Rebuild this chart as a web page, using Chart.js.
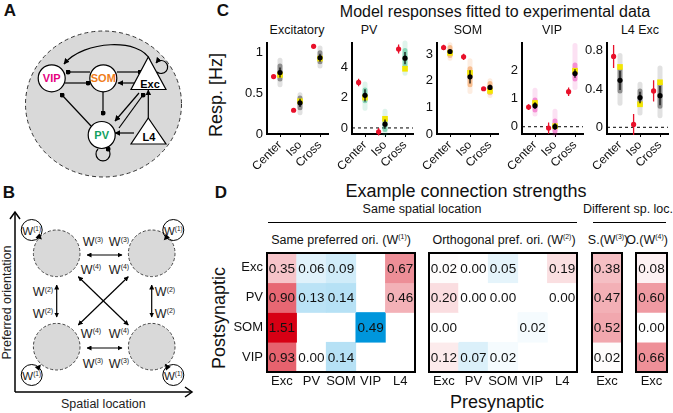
<!DOCTYPE html>
<html>
<head>
<meta charset="utf-8">
<script src="https://cdn.jsdelivr.net/npm/chart.js@4.4.1/dist/chart.umd.min.js"></script>
<style>
body { margin:0; width:673px; height:413px; position:relative; overflow:hidden; background:#fff; font-family:"Liberation Sans", Arial, sans-serif; color:#111; }
.box { position:absolute; }
.t { position:absolute; transform:translate(-50%,-50%); white-space:nowrap; line-height:1; }
.rot { transform:translate(-50%,-50%) rotate(-90deg); }
.b { font-weight:bold; }
sup { font-size:0.55em; vertical-align:0.7em; line-height:0; }
.hl { position:absolute; height:1.5px; background:#000; }
</style>
</head>
<body>

<svg width="220" height="413" style="position:absolute;left:0;top:0" font-family="Liberation Sans, Arial, sans-serif">
  <defs>
    <marker id="tri" viewBox="0 0 10 10" refX="9" refY="5" markerWidth="6" markerHeight="6" markerUnits="userSpaceOnUse" orient="auto-start-reverse">
      <path d="M0,0 L10,5 L0,10 z" fill="#000"/>
    </marker>
    <marker id="triS" viewBox="0 0 10 10" refX="9" refY="5" markerWidth="5" markerHeight="5" markerUnits="userSpaceOnUse" orient="auto-start-reverse">
      <path d="M0,0 L10,5 L0,10 z" fill="#000"/>
    </marker>
    <marker id="dot" viewBox="0 0 10 10" refX="5" refY="5" markerWidth="5" markerHeight="5" markerUnits="userSpaceOnUse">
      <circle cx="5" cy="5" r="5" fill="#000"/>
    </marker>
  </defs>

  <!-- A: circuit -->
  <ellipse cx="103.5" cy="104" rx="78" ry="73" fill="#d9d9d9" stroke="#333" stroke-width="1" stroke-dasharray="4,3"/>
  <g stroke="#000" stroke-width="1.2" fill="none">
    <path d="M150,60 C140,38 84,40 64,64" marker-end="url(#tri)"/>
    <path d="M90,72 L68,72" marker-end="url(#dot)"/>
    <path d="M117,72 L140,72" marker-end="url(#dot)"/>
    <path d="M65,83 L88,83" marker-end="url(#dot)"/>
    <path d="M139,83 L118,83" marker-end="url(#tri)"/>
    <path d="M91,126 L62,95" marker-end="url(#dot)"/>
    <path d="M103,92 L103,113" marker-end="url(#dot)"/>
    <path d="M139,93 L115,121" marker-end="url(#tri)"/>
    <path d="M119,128 L143,95" marker-end="url(#dot)"/>
    <path d="M148.3,120 L148.3,90" marker-end="url(#tri)"/>
    <path d="M134,133 L115,133" marker-end="url(#tri)"/>
    <path d="M157,72 A6.5,6.5 0 1 0 156,63" marker-end="url(#tri)"/>
    <path d="M98,149 A7,7 0 1 0 108,149" marker-end="url(#dot)"/>
  </g>
  <g stroke="#000" stroke-width="1.2" fill="#fff">
    <circle cx="51.7" cy="78.3" r="13.5"/>
    <circle cx="103.3" cy="78.3" r="13.5"/>
    <circle cx="101.7" cy="135" r="13.5"/>
    <polygon points="148.3,57 131,89.5 166,89.5"/>
    <polygon points="148.3,118 131,144 166,144"/>
  </g>
  <g font-size="11" font-weight="bold" text-anchor="middle">
    <text x="51.7" y="82.3" fill="#e5007d">VIP</text>
    <text x="103.3" y="82.3" fill="#f07d1a">SOM</text>
    <text x="101.7" y="139" fill="#12a060">PV</text>
    <text x="150" y="87.5" fill="#000">Exc</text>
    <text x="149" y="141" fill="#000">L4</text>
  </g>

  <!-- B: spatial / orientation scheme -->
  <g stroke="#000" stroke-width="1.5" fill="none">
    <line x1="15" y1="392" x2="15" y2="212"/>
    <polyline points="10,219 15,212 20,219"/>
    <line x1="15" y1="392" x2="192" y2="392"/>
    <polyline points="185,387 192,392 185,397"/>
  </g>
  <g fill="#d9d9d9" stroke="#444" stroke-width="1" stroke-dasharray="3,2">
    <circle cx="56.7" cy="253.3" r="23.3"/>
    <circle cx="151.7" cy="253.3" r="23.3"/>
    <circle cx="56.7" cy="346.7" r="23.3"/>
    <circle cx="151.7" cy="346.7" r="23.3"/>
  </g>
  <g stroke="#000" stroke-width="1.2" fill="none">
    <path d="M87,255 L122,255" marker-start="url(#triS)" marker-end="url(#triS)"/>
    <path d="M87,348 L122,348" marker-start="url(#triS)" marker-end="url(#triS)"/>
    <path d="M56.7,285 L56.7,317" marker-start="url(#triS)" marker-end="url(#triS)"/>
    <path d="M151.7,285 L151.7,317" marker-start="url(#triS)" marker-end="url(#triS)"/>
    <path d="M78.3,276.7 L128.3,325" marker-start="url(#triS)" marker-end="url(#triS)"/>
    <path d="M128.3,276.7 L78.3,325" marker-start="url(#triS)" marker-end="url(#triS)"/>
  </g>
  <g id="loops"></g>
  <g font-size="12.5" text-anchor="middle" fill="#222" id="wlabels"></g>
  <text x="103.3" y="407.5" font-size="12.5" text-anchor="middle" fill="#222">Spatial location</text>
  <text x="0" y="0" font-size="12.5" text-anchor="middle" fill="#222" transform="translate(10.5,302.5) rotate(-90)">Preferred orientation</text>
</svg>

<div class="t b" style="left:10px;top:10px;font-size:17px">A</div>
<div class="t b" style="left:9px;top:192px;font-size:17px">B</div>
<div class="t b" style="left:223px;top:10px;font-size:17px">C</div>
<div class="t b" style="left:221px;top:192px;font-size:17px">D</div>

<div class="t" style="left:495px;top:12px;font-size:16px">Model responses fitted to experimental data</div>
<div class="t rot" style="left:216px;top:95px;font-size:18px">Resp. [Hz]</div>

<div class="t" style="left:466px;top:191px;font-size:18px">Example connection strengths</div>
<div class="t" style="left:422px;top:209px;font-size:12.5px">Same spatial location</div>
<div class="hl" style="left:268px;top:221.5px;width:309px"></div>
<div class="t" style="left:628px;top:209px;font-size:12.5px">Different sp. loc.</div>
<div class="hl" style="left:593px;top:221.5px;width:73px"></div>
<div class="t" style="left:341px;top:240px;font-size:12.5px">Same preferred ori. (W<sup>(1)</sup>)</div>
<div class="t" style="left:504px;top:240px;font-size:12.5px">Orthogonal pref. ori. (W<sup>(2)</sup>)</div>
<div class="t" style="left:608px;top:240px;font-size:12.5px">S.(W<sup>(3)</sup>)</div>
<div class="t" style="left:647px;top:240px;font-size:12.5px">O.(W<sup>(4)</sup>)</div>
<div class="t" style="left:497px;top:402px;font-size:18px">Presynaptic</div>
<div class="t rot" style="left:219px;top:318px;font-size:18px">Postsynaptic</div>

<script>
Chart.defaults.font.family = '"Liberation Sans", Arial, sans-serif';
Chart.defaults.color = '#111';
Chart.defaults.animation = false;
Chart.defaults.events = [];
Chart.defaults.plugins.legend.display = false;
Chart.defaults.plugins.tooltip.enabled = false;

// ---- panel C data ----
const conds = ['Center', 'Iso', 'Cross'];
const cellTypes = ['Excitatory', 'PV', 'SOM', 'VIP', 'L4 Exc'];

// experimental data (red)
const expMean = [[0.70, 0.29, 1.07], [3.0, -0.25, 5.2], [3.25, 2.9, 1.7], [0.70, -0.05, 1.25], [0.74, 0.03, 0.38]];
const expErr  = [[0.01, 0.01, 0.01], [0.25, 0.25, 0.3], [0.1, 0.12, 0.06], [0.1, 0.2, 0.15], [0.12, 0.11, 0.11]];

// model fits: mean, spread, best fit (yellow)
const modelMean = [[0.75, 0.38, 0.93], [2.15, 0.25, 4.6], [3.1, 2.15, 1.75], [0.75, 0.0, 1.9], [0.49, 0.31, 0.33]];
const modelErr  = [[0.06, 0.05, 0.05], [0.4, 0.3, 0.4], [0.08, 0.25, 0.1], [0.12, 0.12, 0.15], [0.1, 0.06, 0.1]];
const bestFit   = [[0.72, 0.40, 0.92], [2.0, 0.6, 3.9], [3.05, 2.3, 1.62], [0.85, 0.02, 2.0], [0.63, 0.24, 0.47]];
const cloudLo = [[0.6, 0.26, 0.83], [1.3, -0.4, 3.6], [2.85, 1.6, 1.45], [0.45, -0.26, 1.4], [0.25, 0.15, 0.12]];
const cloudHi = [[0.9, 0.48, 1.05], [2.9, 1.1, 5.6], [3.35, 2.75, 2.0], [1.3, 0.55, 2.9], [0.75, 0.45, 0.62]];
const coreLo  = [[0.67, 0.32, 0.88], [1.8, -0.1, 4.1], [2.95, 1.85, 1.55], [0.6, -0.15, 1.7], [0.38, 0.24, 0.22]];
const coreHi  = [[0.83, 0.44, 0.99], [2.5, 0.6, 5.1], [3.25, 2.45, 1.9], [0.95, 0.2, 2.2], [0.6, 0.38, 0.45]];

const yRange = [[0, 1.11], [-0.4, 5.6], [0, 3.42], [-0.26, 2.99], [-0.07, 0.88]];
const yTicks = [[0, 0.5, 1], [0, 2, 4], [0, 1, 2, 3], [0, 1, 2], [0, 0.4, 0.8]];

// ---- panel D data (rows: postsynaptic, cols: presynaptic) ----
const preCols = ['Exc', 'PV', 'SOM', 'VIP', 'L4'];
const postRows = ['Exc', 'PV', 'SOM', 'VIP'];
const wSame = [[0.35, 0.06, 0.09, null, 0.67], [0.90, 0.13, 0.14, null, 0.46], [1.51, null, null, 0.49, null], [0.93, 0.00, 0.14, null, null]];
const wOrth = [[0.02, 0.00, 0.05, null, 0.19], [0.20, 0.00, 0.00, null, 0.00], [0.00, null, null, 0.02, null], [0.12, 0.07, 0.02, null, null]];
const wSameFar = [[0.38], [0.47], [0.52], [0.02]];
const wOrthFar = [[0.08], [0.60], [0.00], [0.66]];

// ---- B labels and loops ----
(function () {
  const lab = [[93, 241.7, 3], [119, 241.7, 3], [93, 363.3, 3], [119, 363.3, 3],
               [91, 269.3, 4], [119, 269.3, 4], [91, 333.3, 4], [119, 333.3, 4],
               [43, 291.7, 2], [43, 313.3, 2], [165, 291.7, 2], [165, 313.3, 2]];
  const loops = [[31.7, 230, 56.7, 253.3], [173.3, 230, 151.7, 253.3], [31.7, 375, 56.7, 346.7], [173.3, 375, 151.7, 346.7]];
  let s = '';
  lab.forEach(l => { s += `<text x="${l[0]}" y="${l[1] + 4.5}">W<tspan dy="-4.5" font-size="7">(${l[2]})</tspan></text>`; });
  loops.forEach(l => { s += `<text x="${l[0]}" y="${l[1] + 4.5}" font-size="11.5">W<tspan dy="-4" font-size="6.5">(1)</tspan></text>`; });
  document.getElementById('wlabels').innerHTML = s;
  let g = '';
  loops.forEach(l => {
    const dx = l[2] - l[0], dy = l[3] - l[1], n = Math.hypot(dx, dy);
    const ux = dx / n, uy = dy / n;
    const tip = [l[0] + ux * 14, l[1] + uy * 14];
    const bx = l[0] + ux * 8, by = l[1] + uy * 8;
    g += `<circle cx="${l[0]}" cy="${l[1]}" r="10.5" fill="none" stroke="#000" stroke-width="1"/>`;
    g += `<path d="M${tip[0]},${tip[1]} L${bx - uy * 3},${by + ux * 3} L${bx + uy * 3},${by - ux * 3} z" fill="#000"/>`;
  });
  document.getElementById('loops').innerHTML = g;
})();

// ---- layout ----
const plotLeft = [267, 352, 437, 522, 607];
const plotTop = 43, plotW = 61, plotH = 91;
const titleX = [297, 369, 468, 552, 640];
const cloudRGB = ['40,40,40', '30,180,120', '240,130,40', '235,40,170', '40,40,40'];

function segs(lo, hi, dx) {
  const out = [];
  lo.forEach((v, k) => {
    out.push({x: k + 1 + dx, y: v}, {x: k + 1 + dx, y: hi[k]}, {x: k + 1 + dx, y: null});
  });
  return out;
}
function pts(vals, dx) {
  return vals.map((v, k) => ({x: k + 1 + dx, y: v}));
}
function addBox(left, top, w, h) {
  const div = document.createElement('div');
  div.className = 'box';
  div.style.left = left + 'px';
  div.style.top = top + 'px';
  div.style.width = w + 'px';
  div.style.height = h + 'px';
  const cv = document.createElement('canvas');
  div.appendChild(cv);
  document.body.appendChild(div);
  return cv;
}

cellTypes.forEach((name, i) => {
  const t = document.createElement('div');
  t.className = 't';
  t.style.left = titleX[i] + 'px';
  t.style.top = '30px';
  t.style.fontSize = '12.5px';
  t.textContent = name;
  document.body.appendChild(t);

  const cv = addBox(plotLeft[i] - 32, plotTop - 12, 32 + plotW + 12, 12 + plotH + 48);
  const rgb = cloudRGB[i];
  const line = {showLine: true, pointRadius: 0, borderCapStyle: 'round', clip: false};
  const ds = [];
  if (yRange[i][0] < 0) {
    ds.push({...line, borderCapStyle: 'butt', data: [{x: 0.35, y: 0}, {x: 3.4, y: 0}], borderColor: '#000', borderWidth: 1, borderDash: [3, 3], order: 9});
  }
  ds.push({...line, data: segs(cloudLo[i], cloudHi[i], 0), borderColor: `rgba(${rgb},0.14)`, borderWidth: 5, order: 8});
  ds.push({...line, data: segs(coreLo[i], coreHi[i], 0), borderColor: `rgba(${rgb},0.45)`, borderWidth: 5, order: 7});
  ds.push({data: pts(bestFit[i], 0), pointStyle: 'rect', pointRadius: 4, backgroundColor: '#f3e600', borderWidth: 0, order: 6, clip: false});
  ds.push({...line, borderCapStyle: 'butt', data: segs(modelMean[i].map((m, k) => m - modelErr[i][k]), modelMean[i].map((m, k) => m + modelErr[i][k]), 0), borderColor: '#000', borderWidth: 1.2, order: 5});
  ds.push({data: pts(modelMean[i], 0), pointRadius: 2.6, backgroundColor: '#000', borderWidth: 0, order: 4, clip: false});
  ds.push({...line, borderCapStyle: 'butt', data: segs(expMean[i].map((m, k) => m - expErr[i][k]), expMean[i].map((m, k) => m + expErr[i][k]), -0.32), borderColor: '#e8102a', borderWidth: 1.3, order: 3});
  ds.push({data: pts(expMean[i], -0.32), pointRadius: 2.6, backgroundColor: '#e8102a', borderWidth: 0, order: 2, clip: false});

  new Chart(cv, {
    type: 'scatter',
    data: {datasets: ds},
    options: {
      responsive: true,
      maintainAspectRatio: false,
      layout: {padding: {top: 12, right: 12, left: 0, bottom: 0}},
      scales: {
        x: {
          type: 'linear', min: 0.35, max: 3.4,
          afterBuildTicks: a => { a.ticks = [1, 2, 3].map(v => ({value: v})); },
          afterFit: a => { a.height = 48; },
          ticks: {autoSkip: false, minRotation: 45, maxRotation: 45, padding: 1, font: {size: 12}, color: '#111', callback: v => conds[v - 1]},
          grid: {display: true, drawOnChartArea: false, drawTicks: true, tickLength: 3, color: '#000'},
          border: {display: true, color: '#000', width: 2}
        },
        y: {
          min: yRange[i][0], max: yRange[i][1],
          afterBuildTicks: a => { a.ticks = yTicks[i].map(v => ({value: v})); },
          afterFit: a => { a.width = 32; },
          ticks: {font: {size: 13}, padding: 4, color: '#111', callback: v => String(v)},
          grid: {display: false, drawTicks: false},
          border: {display: true, color: '#000', width: 2}
        }
      }
    }
  });
});

// ---- panel D heatmaps ----
const heatTop = 253, heatH = 119;

function cellColor(v, pre) {
  if (v === null) return 'rgba(0,0,0,0)';
  const exc = pre === 'Exc' || pre === 'L4';
  const t = Math.min(1, exc ? v / 1.51 : v / 0.49);
  const end = exc ? [215, 0, 20] : [0, 150, 220];
  const c = end.map(e => Math.round(255 + (e - 255) * t));
  return `rgb(${c.join(',')})`;
}

function heatChart(left, width, cols, vals, showRows) {
  const yW = showRows ? 40 : 0;
  const cv = addBox(left - 4 - yW, heatTop - 14, yW + width + 8, 14 + heatH + 24);
  const datasets = vals.map((row, r) => ({
    data: row.map(v => v === null ? null : [r, r + 1]),
    backgroundColor: row.map((v, c) => cellColor(v, cols[c])),
    borderWidth: 0,
    barPercentage: 1,
    categoryPercentage: 1,
    grouped: false
  }));
  new Chart(cv, {
    type: 'bar',
    data: {labels: cols, datasets: datasets},
    options: {
      responsive: true,
      maintainAspectRatio: false,
      layout: {padding: {top: 14, left: 4, right: 4, bottom: 0}},
      scales: {
        x: {
          afterFit: a => { a.height = 24; },
          grid: {display: false, drawTicks: false},
          border: {display: false},
          ticks: {font: {size: 13}, padding: 2, color: '#111', autoSkip: false, minRotation: 0, maxRotation: 0}
        },
        y: {
          display: showRows, min: 0, max: 4, reverse: true,
          afterBuildTicks: a => { a.ticks = [0.5, 1.5, 2.5, 3.5].map(v => ({value: v})); },
          afterFit: a => { a.width = yW; },
          ticks: {font: {size: 13}, padding: 4, color: '#111', callback: v => postRows[Math.floor(v)]},
          grid: {display: false, drawTicks: false},
          border: {display: false}
        }
      }
    },
    plugins: [{
      id: 'cells',
      afterDatasetsDraw(chart) {
        const ctx = chart.ctx;
        ctx.save();
        ctx.font = '13.5px "Liberation Sans", Arial, sans-serif';
        ctx.fillStyle = '#111';
        ctx.textAlign = 'center';
        ctx.textBaseline = 'middle';
        vals.forEach((row, r) => {
          const meta = chart.getDatasetMeta(r);
          row.forEach((v, c) => {
            if (v === null) return;
            const el = meta.data[c];
            ctx.fillText(v.toFixed(2), el.x, (el.y + el.base) / 2 + 1);
          });
        });
        const a = chart.chartArea;
        ctx.lineWidth = 2;
        ctx.strokeStyle = '#000';
        ctx.strokeRect(a.left, a.top, a.right - a.left, a.bottom - a.top);
        ctx.restore();
      }
    }]
  });
}

heatChart(267, 148, preCols, wSame, true);
heatChart(429, 148, preCols, wOrth, false);
heatChart(592, 30, ['Exc'], wSameFar, false);
heatChart(636, 31, ['Exc'], wOrthFar, false);
</script>
</body>
</html>
